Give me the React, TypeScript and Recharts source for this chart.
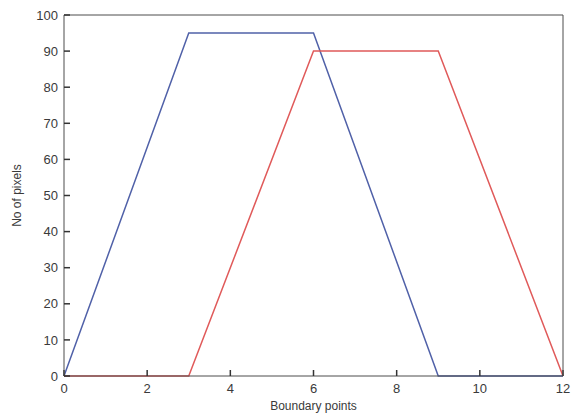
import React from 'react'
import { LineChart, Line, XAxis, YAxis } from 'recharts'

const boundaryPoints = [0, 3, 6, 9, 12]
const blueSeries = [0, 95, 95, 0, 0]
const redSeries = [0, 0, 90, 90, 0]
const xTicks = [0, 2, 4, 6, 8, 10, 12]
const yTicks = [0, 10, 20, 30, 40, 50, 60, 70, 80, 90, 100]

const data = boundaryPoints.map((x, i) => ({
  x,
  blue: blueSeries[i],
  red: redSeries[i],
}))

const AXIS = '#4d4d4d'
const TEXT = '#3a3a3a'
const FONT = '"Liberation Sans", Arial, sans-serif'
// negative tick size = ticks pointing into the box, like MATLAB
const IN_TICK = -6
const tickText = { fontSize: 13, fill: TEXT, fontFamily: FONT }
const tickLineStyle = { stroke: '#333', strokeWidth: 1.5 }

export default function App() {
  return (
    <div style={{ position: 'absolute', left: 0, top: 0, background: '#fff' }}>
      <LineChart width={571} height={416} data={data} margin={{ top: 14, right: 7, left: 0, bottom: 0 }}>
        <XAxis
          xAxisId="bottom"
          dataKey="x"
          type="number"
          domain={[0, 12]}
          ticks={xTicks}
          height={40}
          tickSize={IN_TICK}
          tickMargin={14}
          tick={tickText}
          tickLine={tickLineStyle}
          stroke={AXIS}
          label={{
            content: ({ viewBox }: any) => (
              <text
                x={viewBox.x + viewBox.width / 2}
                y={viewBox.y + 34}
                textAnchor="middle"
                fill={TEXT}
                fontSize={12}
                fontFamily={FONT}
              >
                Boundary points
              </text>
            ),
          }}
        />
        <XAxis
          xAxisId="top"
          dataKey="x"
          type="number"
          orientation="top"
          domain={[0, 12]}
          ticks={xTicks}
          height={1}
          tickSize={IN_TICK}
          tick={false}
          tickLine={tickLineStyle}
          stroke={AXIS}
        />
        <YAxis
          yAxisId="left"
          type="number"
          domain={[0, 100]}
          ticks={yTicks}
          width={64}
          tickSize={IN_TICK}
          tickMargin={12}
          tick={tickText}
          tickLine={tickLineStyle}
          stroke={AXIS}
          label={{
            content: ({ viewBox }: any) => {
              const cx = viewBox.x + 17
              const cy = viewBox.y + viewBox.height / 2
              return (
                <text
                  x={cx}
                  y={cy}
                  transform={`rotate(-90 ${cx} ${cy})`}
                  textAnchor="middle"
                  dominantBaseline="central"
                  fill={TEXT}
                  fontSize={12}
                  fontFamily={FONT}
                >
                  No of pixels
                </text>
              )
            },
          }}
        />
        <YAxis
          yAxisId="right"
          type="number"
          orientation="right"
          domain={[0, 100]}
          ticks={yTicks}
          width={1}
          tickSize={IN_TICK}
          tick={false}
          tickLine={tickLineStyle}
          stroke={AXIS}
        />
        <Line
          xAxisId="bottom"
          yAxisId="left"
          type="linear"
          dataKey="blue"
          stroke="#5061a8"
          strokeWidth={1.5}
          dot={false}
          isAnimationActive={false}
        />
        <Line
          xAxisId="bottom"
          yAxisId="left"
          type="linear"
          dataKey="red"
          stroke="#e05a5a"
          strokeWidth={1.5}
          dot={false}
          isAnimationActive={false}
        />
      </LineChart>
    </div>
  )
}
